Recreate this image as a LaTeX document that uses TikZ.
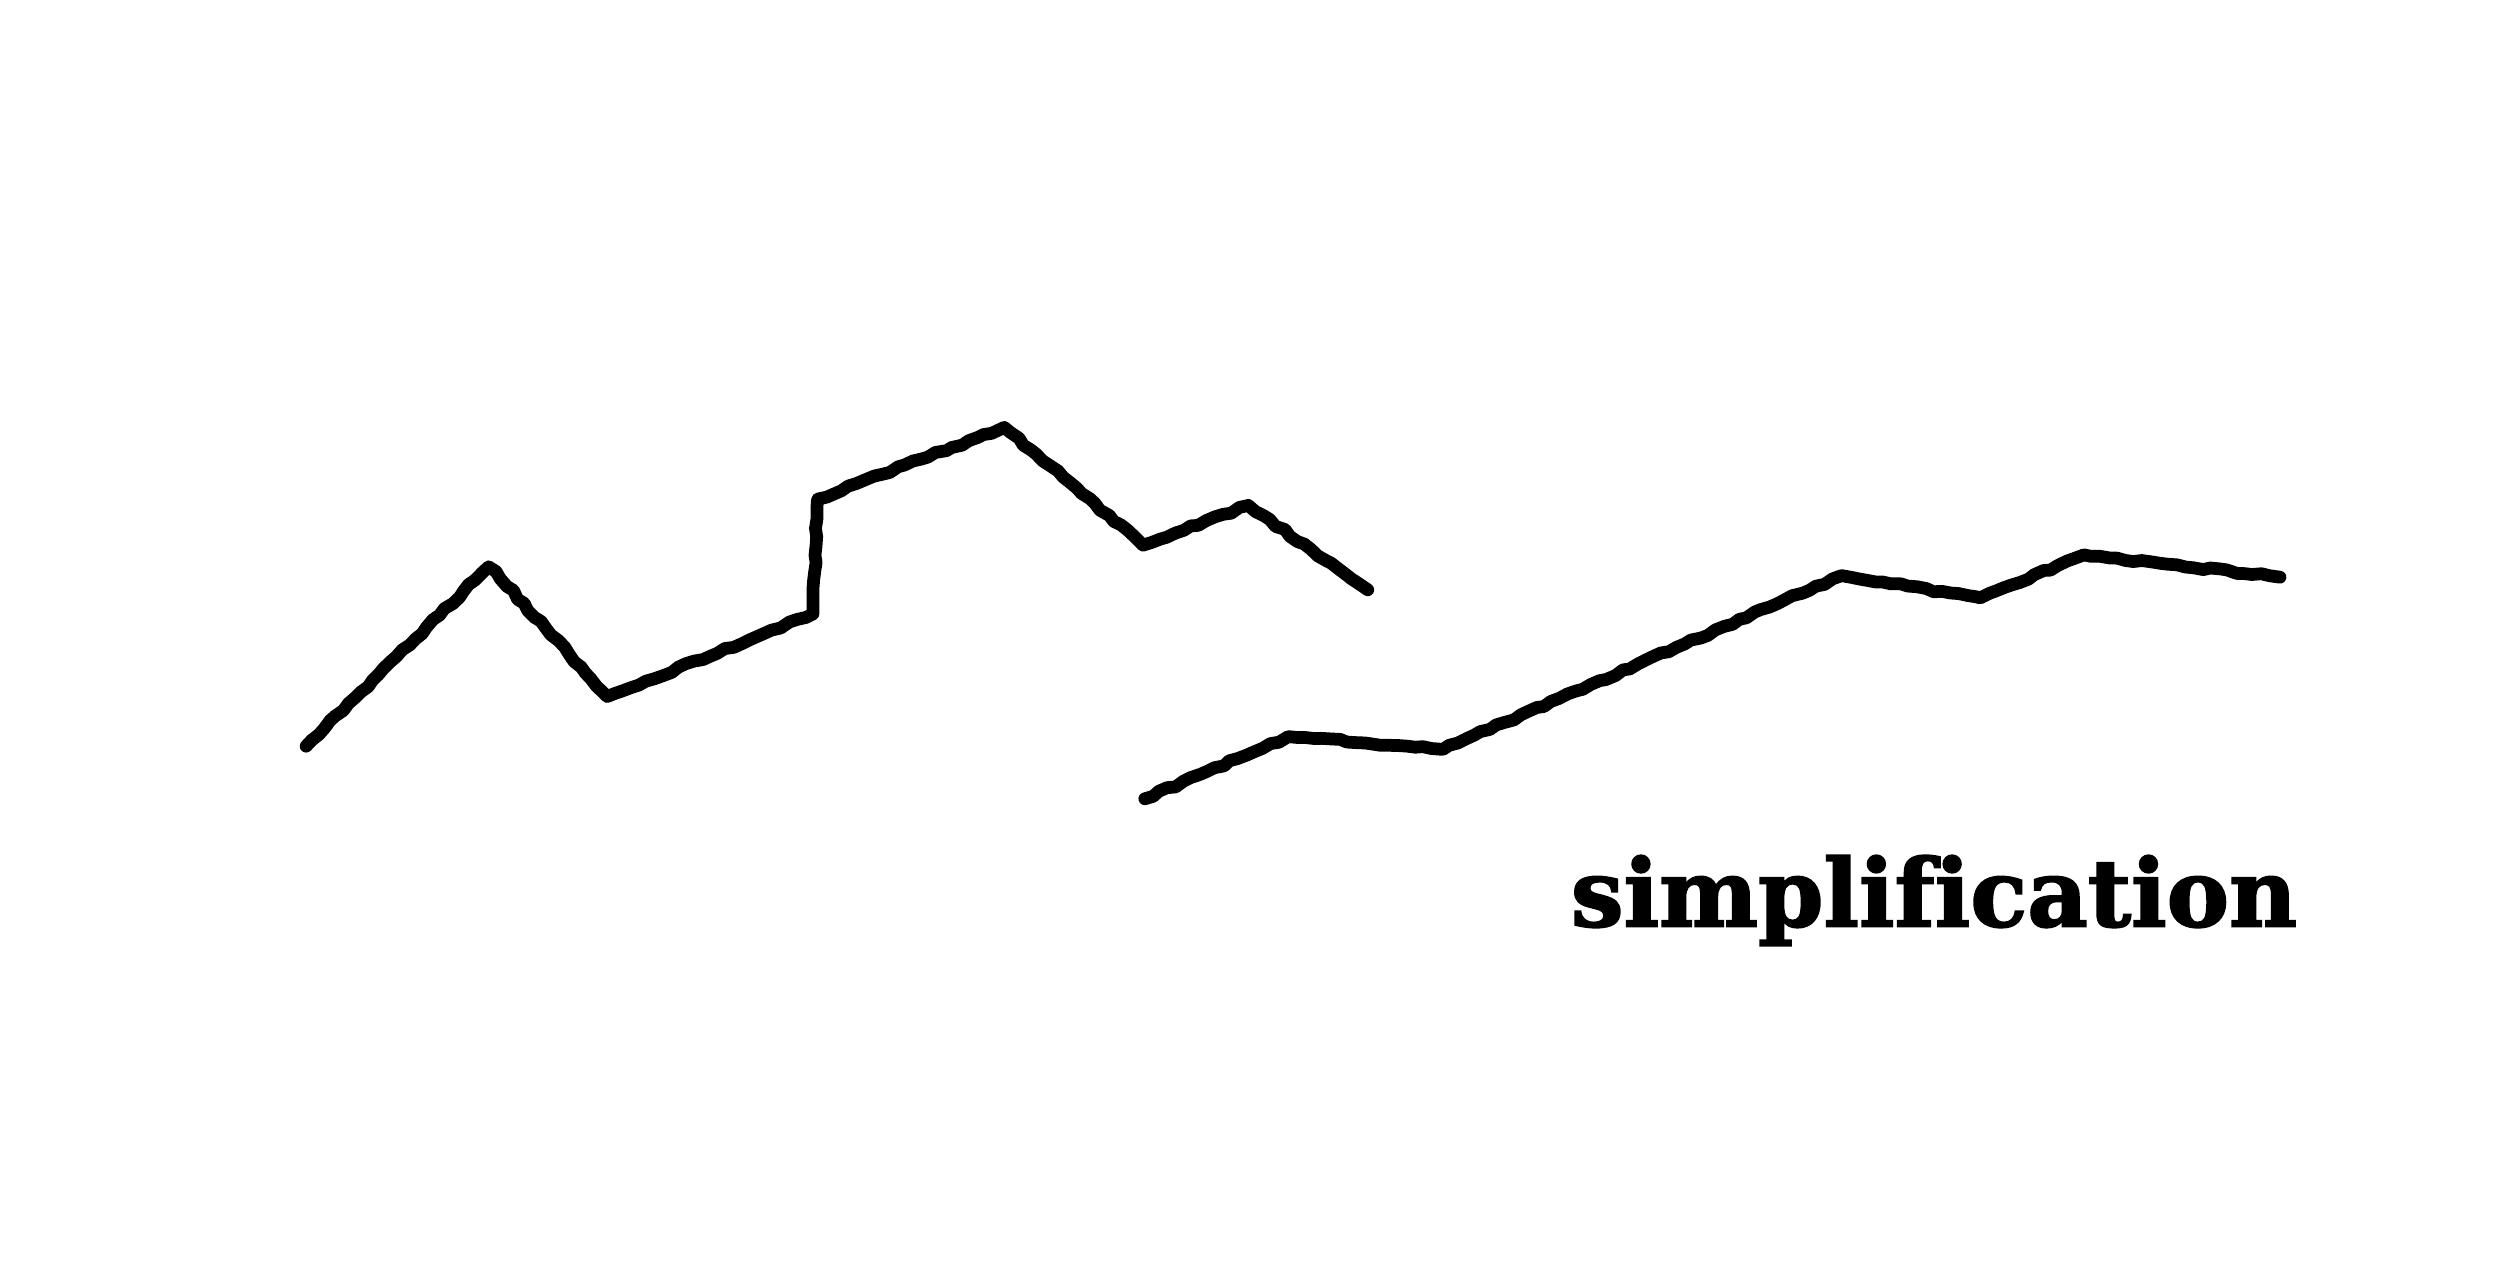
\documentclass[tikz,border=0pt]{standalone}
\usepackage{fontspec}
\newfontfamily\labelfont[Ligatures=NoCommon, FakeBold=2]{DejaVu Serif}
\usetikzlibrary{decorations.pathmorphing}

\tikzset{
  roughline/.style={draw=black, line width=6pt, line join=round, line cap=round,
    decorate, decoration={random steps, segment length=4pt, amplitude=0.7pt}},
  titletext/.style={font=\labelfont\bfseries\fontsize{44}{48}\selectfont, inner sep=0pt, anchor=base}
}

\begin{document}
\begin{tikzpicture}[x=0.75pt,y=0.75pt,yscale=-1,xscale=1]
  \pgfmathsetseed{7}
  \useasboundingbox (0,0) rectangle (1568,801);
  % original line
  \draw [roughline] (192,468) -- (307,355) -- (381,437) -- (510,385) -- (513,313) -- (630,268) -- (717,342) -- (783,317) -- (858,370);
  % simplified line
  \draw [roughline] (718,501) -- (808,462) -- (905,470) -- (1155,361) -- (1242,375) -- (1307,348) -- (1430,362);
  \node [titletext] (label) at (1213,581) {simplification};
\end{tikzpicture}
\end{document}
